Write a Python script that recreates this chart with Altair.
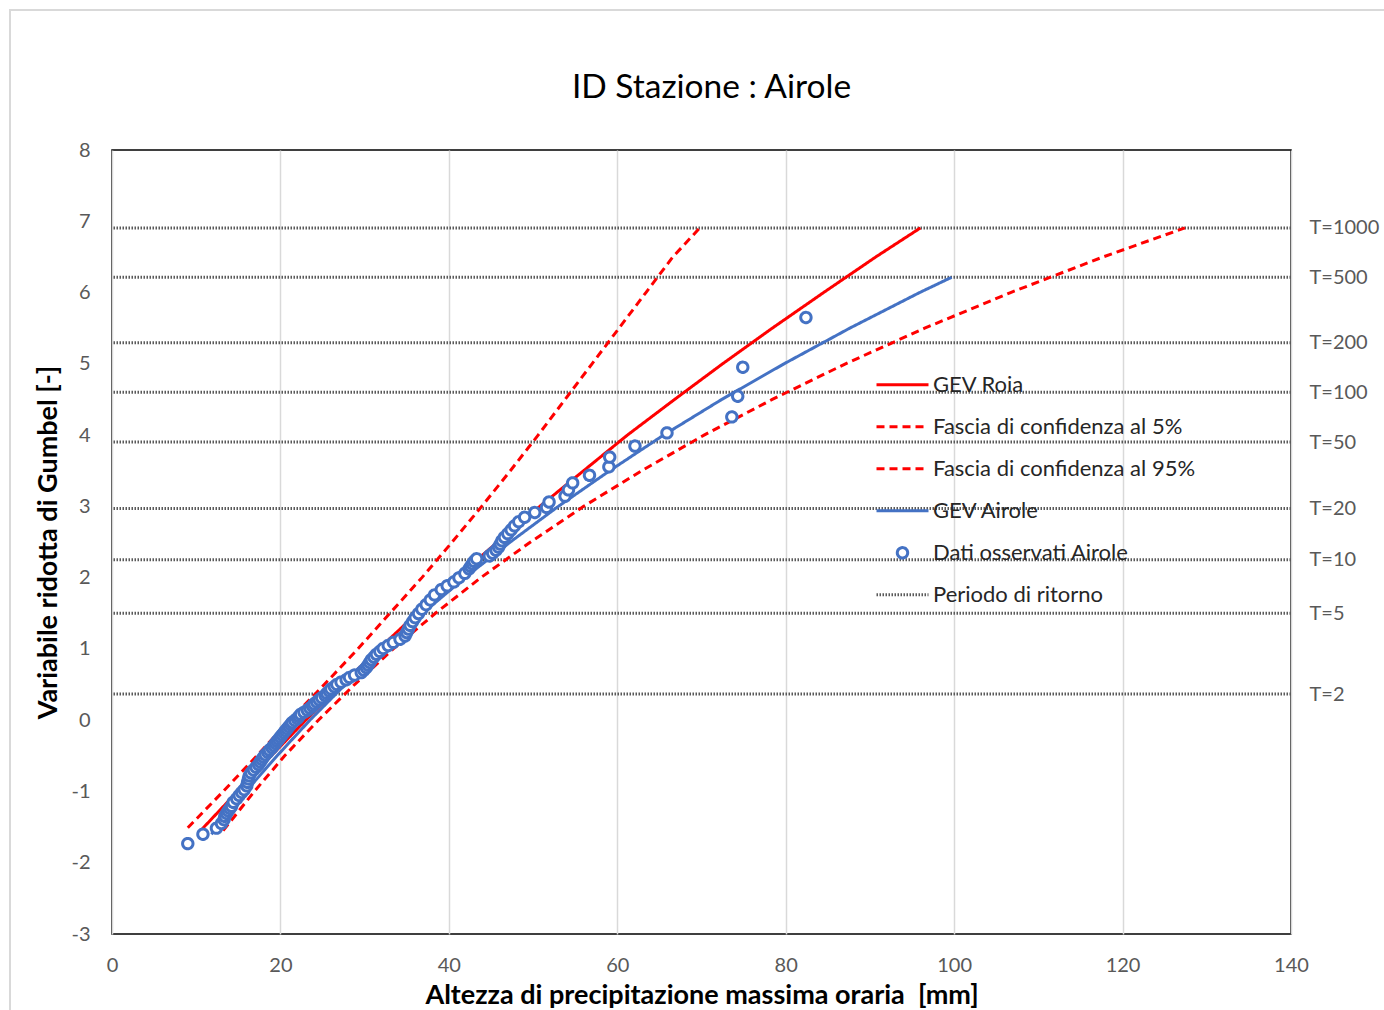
import altair as alt
import pandas as pd

FONT = "Lato"

# ---------------- data ----------------
series = ["GEV Roia", "Fascia di confidenza al 5%", "Fascia di confidenza al 95%",
          "GEV Airole", "Dati osservati Airole", "Periodo di ritorno"]

# return periods (Gumbel reduced variate) and their labels
T_labels = ["T=2", "T=5", "T=10", "T=20", "T=50", "T=100", "T=200", "T=500", "T=1000"]
T_y = [0.3665, 1.4999, 2.2504, 2.9702, 3.9019, 4.6001, 5.2958, 6.2136, 6.9073]

# GEV Roia (red solid)
roia_y = [-1.54, -1.0, -0.5, 0.0, 0.5, 1.0, 1.5, 2.0, 2.5, 3.0, 3.5, 4.0, 4.5, 5.0, 5.5, 6.0, 6.5, 6.907]
roia_x = [10.6, 14.9, 18.9, 23.0, 27.3, 31.7, 36.2, 40.9, 45.8, 50.8, 56.0, 61.2, 66.8, 72.5, 78.4, 84.5, 90.7, 96.0]

# confidence band (steeper red dashed)
c5_y = [-1.51, -1.0, -0.5, 0.0, 0.5, 1.0, 1.5, 2.0, 2.5, 3.0, 3.5, 4.0, 4.5, 5.0, 5.5, 6.0, 6.5, 6.907]
c5_x = [9.0, 13.2, 17.2, 21.1, 25.2, 29.2, 33.0, 36.8, 40.4, 43.9, 47.3, 50.6, 53.8, 57.0, 60.2, 63.4, 66.6, 69.8]

# confidence band (flatter red dashed)
c95_y = [-1.55, -1.0, -0.5, 0.0, 0.5, 1.0, 1.5, 2.0, 2.5, 3.0, 3.5, 4.0, 4.5, 5.0, 5.5, 6.0, 6.5, 6.907]
c95_x = [13.2, 16.9, 20.5, 24.5, 28.8, 33.4, 38.4, 43.8, 49.7, 56.0, 62.9, 70.3, 78.4, 87.1, 96.5, 106.7, 117.7, 127.4]

# GEV Airole (blue solid)
air_y = [-1.6, -1.0, -0.5, 0.0, 0.5, 1.0, 1.5, 2.0, 2.5, 3.0, 3.5, 4.0, 4.5, 5.0, 5.5, 6.0, 6.214]
air_x = [11.8, 15.9, 19.6, 23.5, 27.7, 32.1, 36.9, 41.9, 47.3, 53.0, 59.1, 65.5, 72.4, 79.8, 87.6, 95.9, 99.7]

# observed data Airole (open circles)
obs_y = [-1.7315, -1.6006, -1.5152, -1.4499, -1.3961, -1.3499, -1.3092, -1.2725, -1.2389, -1.2079,
         -1.1519, -1.1019, -1.0565, -1.0147, -0.9758,
         -0.9217, -0.8717, -0.8249, -0.7808, -0.7389, -0.6988, -0.6603, -0.6232, -0.5872, -0.5522,
         -0.5181, -0.4847, -0.4521, -0.4200, -0.3884, -0.3574, -0.3266, -0.2963, -0.2663, -0.2366,
         -0.2071, -0.1779, -0.1488, -0.1198, -0.0909, -0.0620, -0.0333, -0.0046, 0.0241, 0.0529,
         0.0817, 0.1105, 0.1394, 0.1684, 0.1976, 0.2269, 0.2564, 0.2861, 0.3161, 0.3462,
         0.3766, 0.4074, 0.4384, 0.4699, 0.5016, 0.5338, 0.5664, 0.5995, 0.6330, 0.6671,
         0.7018, 0.7371, 0.7731, 0.8097, 0.8473, 0.8853, 0.9246, 0.9647, 1.0057, 1.0478,
         1.0912, 1.1360, 1.1819, 1.2296, 1.2787, 1.3299, 1.3831, 1.4380, 1.4961, 1.5563,
         1.6195, 1.6864, 1.7574, 1.8320,
         1.8852, 1.9400, 1.9980, 2.0596, 2.1236,
         2.158, 2.193, 2.228, 2.265, 2.304, 2.343, 2.384, 2.427, 2.471, 2.518,
         2.566, 2.617, 2.670, 2.726, 2.785, 2.847, 2.914, 2.985, 3.061, 3.143,
         3.231, 3.329, 3.436, 3.555, 3.691, 3.846, 4.031, 4.255, 4.545, 4.952, 5.650]
obs_x = [9.0, 10.8, 12.4, 13.0, 13.3, 13.4, 13.6, 13.8, 14.0, 14.2,
         14.4, 14.8, 15.1, 15.4, 15.7,
         16.0, 16.1, 16.2, 16.3, 16.5, 16.8, 17.1, 17.4, 17.6, 17.8,
         18.0, 18.2, 18.5, 18.7, 19.0, 19.2, 19.4, 19.6, 19.8, 20.0,
         20.2, 20.4, 20.6, 20.8, 21.0, 21.2, 21.4, 21.7, 22.0, 22.2,
         22.4, 22.8, 23.2, 23.5, 23.8, 24.0, 24.3, 24.6, 24.9, 25.3,
         25.5, 25.8, 26.0, 26.4, 26.7, 27.2, 27.8, 28.2, 28.8, 29.6,
         29.9, 30.2, 30.4, 30.6, 30.8, 31.1, 31.4, 31.8, 32.2, 32.8,
         33.4, 34.2, 34.8, 35.0, 35.2, 35.4, 35.7, 36.0, 36.4, 36.8,
         37.3, 37.8, 38.3, 39.1,
         39.8, 40.6, 41.2, 41.9, 42.4,
         42.6, 42.8, 43.0, 43.3, 44.8, 45.2, 45.6, 45.9, 46.1, 46.3,
         46.6, 47.0, 47.4, 47.8, 48.3, 49.0, 50.2, 51.6, 51.9, 53.8,
         54.2, 54.7, 56.7, 59.0, 59.1, 62.1, 65.9, 73.6, 74.3, 74.9, 82.4]
assert len(obs_x) == len(obs_y)

# ---------------- tables ----------------
curves = pd.concat([
    pd.DataFrame({"x": roia_x, "y": roia_y, "serie": series[0]}),
    pd.DataFrame({"x": c5_x, "y": c5_y, "serie": series[1]}),
    pd.DataFrame({"x": c95_x, "y": c95_y, "serie": series[2]}),
    pd.DataFrame({"x": air_x, "y": air_y, "serie": series[3]}),
], ignore_index=True)
obs = pd.DataFrame({"x": obs_x, "y": obs_y, "serie": series[4]})
rp = pd.DataFrame({"y": T_y, "lab": T_labels, "serie": series[5]})

# ---------------- styles ----------------
colors = ["#ff0000", "#ff0000", "#ff0000", "#4472c4", "#4472c4", "#595959"]
dashes = [[1, 0], [8, 5], [8, 5], [1, 0], [1, 0], [1.5, 1.5]]
widths = [3, 3, 3, 2.5, 2, 1]
CIRCLE = "M -0.2 0 A 0.2 0.2 0 1 1 0.2 0 A 0.2 0.2 0 1 1 -0.2 0 Z"
shapes = ["stroke", "stroke", "stroke", "stroke", CIRCLE, "stroke"]
SYM = 2704

legend = alt.Legend(title=None, orient="none", legendX=763, legendY=214,
                    symbolSize=SYM, clipHeight=41.6, rowPadding=0, padding=0,
                    labelFont=FONT, labelFontSize=22, labelColor="#262626", labelLimit=0,
                    labelOffset=3, symbolOffset=0, symbolType="stroke")

cscale = alt.Scale(domain=series, range=colors)
dscale = alt.Scale(domain=series, range=dashes)
wscale = alt.Scale(domain=series, range=widths)
sscale = alt.Scale(domain=series, range=shapes)

xscale = alt.Scale(domain=[0, 140], nice=False)
yscale = alt.Scale(domain=[-3, 8], nice=False)

x_axis = alt.Axis(values=list(range(0, 141, 20)), grid=True, gridColor="#d9d9d9", gridWidth=1.5,
                  domain=False, ticks=False, tickSize=0, labelPadding=21, labelFlush=False,
                  labelFont=FONT, labelFontSize=20, labelColor="#595959",
                  title="Altezza di precipitazione massima oraria \u00a0[mm]",
                  titleFont=FONT, titleFontSize=27, titleFontWeight="bold", titleColor="#000000",
                  titlePadding=7)
y_axis = alt.Axis(values=list(range(-3, 9)), grid=False, domain=False, ticks=False, tickSize=0,
                  labelPadding=22, labelFlush=False, labelExpr="'' + datum.value",
                  labelFont=FONT, labelFontSize=20, labelColor="#595959",
                  title="Variabile ridotta di Gumbel [-]",
                  titleFont=FONT, titleFontSize=27, titleFontWeight="bold", titleColor="#000000",
                  titlePadding=8)
t_expr = ("[" + ",".join("'%s'" % l for l in T_labels) + "][indexof(["
          + ",".join(str(v) for v in T_y) + "], datum.value)]")
y_axis_r = alt.Axis(orient="right", values=T_y, labelExpr=t_expr, grid=False, domain=False,
                    ticks=False, tickSize=0, labelPadding=18, labelFlush=False,
                    labelFont=FONT, labelFontSize=20, labelColor="#595959", title=None)

enc_common = dict(
    color=alt.Color("serie:N", scale=cscale, legend=legend),
    strokeDash=alt.StrokeDash("serie:N", scale=dscale, legend=legend),
    strokeWidth=alt.StrokeWidth("serie:N", scale=wscale, legend=legend),
)

# light outer chart-area border (decorative frame, as in the spreadsheet export)
frame = alt.Chart(pd.DataFrame({"k": [0]})).mark_rect(
    fill=None, stroke="#d9d9d9", strokeWidth=2
).encode(x=alt.value(-102), x2=alt.value(1300), y=alt.value(-140), y2=alt.value(900))

rules = alt.Chart(rp).mark_rule().encode(
    y=alt.Y("y:Q", scale=yscale, axis=y_axis_r),
    **enc_common,
)

lines = alt.Chart(curves).mark_line().encode(
    x=alt.X("x:Q", scale=xscale, axis=x_axis),
    y=alt.Y("y:Q", scale=yscale, axis=y_axis),
    **enc_common,
)

points = alt.Chart(obs).mark_point(filled=False, fill="white", size=SYM, opacity=1).encode(
    x=alt.X("x:Q", scale=xscale, axis=x_axis),
    y=alt.Y("y:Q", scale=yscale, axis=None),
    shape=alt.Shape("serie:N", scale=sscale, legend=legend),
    **enc_common,
)

chart = alt.layer(frame, rules, lines, points).resolve_axis(y="independent").properties(
    width=1179, height=784,
    title=alt.TitleParams("ID Stazione : Airole", font=FONT, fontSize=33.5, fontWeight="normal",
                          color="#000000", anchor="middle", offset=35, dx=10, dy=131),
    autosize=alt.AutoSizeParams(type="none"),
    padding={"left": 112, "top": 150, "right": 93, "bottom": 76},
).configure_view(stroke="#000000", strokeWidth=1.5)

chart.save("out.html", embed_options={"renderer": "svg", "actions": False})
